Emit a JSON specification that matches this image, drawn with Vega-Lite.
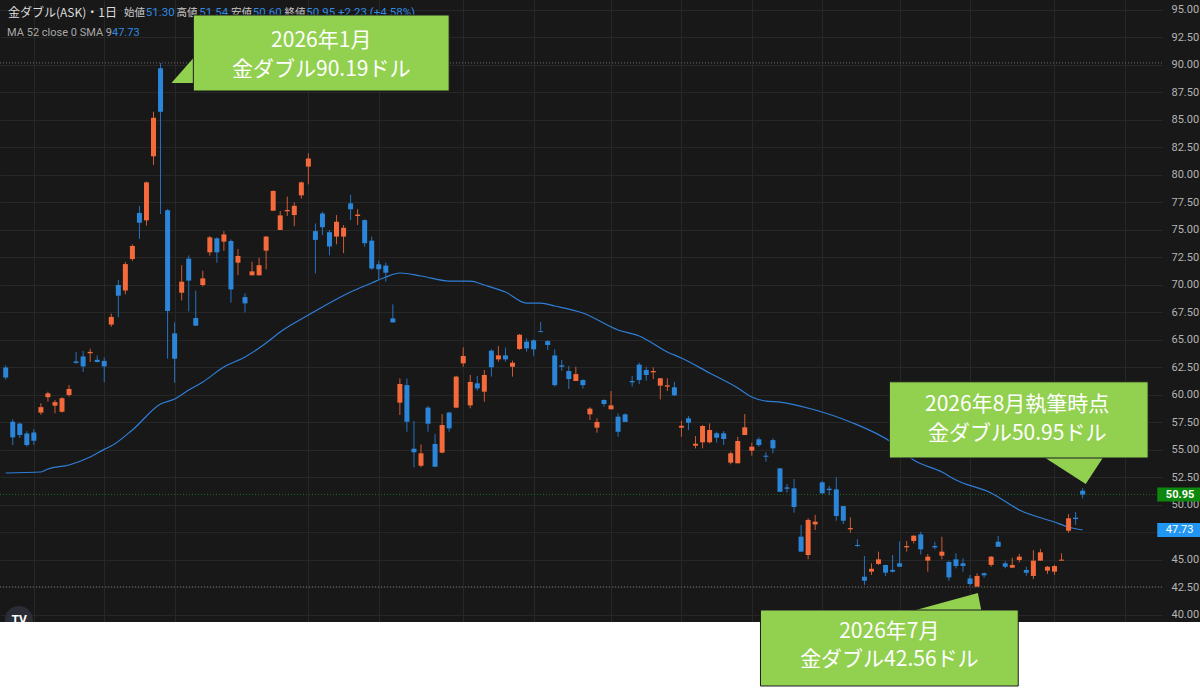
{
"$schema": "https://vega.github.io/schema/vega-lite/v6.json",
"width": 1162, "height": 692,
"autosize": {"type": "none"},
"padding": {"left": 0, "top": 0, "right": 38, "bottom": 0},
"background": "#181818",
"config": {"view": {"stroke": null}, "axis": {"titleOpacity": 0}},
"resolve": {"axis": {"x": "independent", "y": "independent"}},
"datasets": {
"candles": [
{"i":0,"o":62.5,"h":62.7,"l":61.4,"c":61.6},
{"i":1,"o":57.57,"h":57.8,"l":55.45,"c":56.15},
{"i":2,"o":57.4,"h":57.5,"l":56.1,"c":56.36},
{"i":3,"o":56.5,"h":56.7,"l":55.3,"c":55.45},
{"i":4,"o":56.6,"h":56.9,"l":55.45,"c":55.85},
{"i":5,"o":58.4,"h":59.25,"l":58.2,"c":58.9},
{"i":6,"o":59.8,"h":60.3,"l":59.4,"c":60.15},
{"i":7,"o":59.03,"h":59.55,"l":58.33,"c":59.35},
{"i":8,"o":58.48,"h":59.8,"l":58.4,"c":59.7},
{"i":9,"o":60.0,"h":60.9,"l":59.85,"c":60.55},
{"i":10,"o":63.05,"h":63.9,"l":62.85,"c":62.92},
{"i":11,"o":63.5,"h":64.0,"l":62.1,"c":62.6},
{"i":12,"o":63.8,"h":64.2,"l":63.0,"c":63.92},
{"i":13,"o":63.2,"h":63.6,"l":62.95,"c":63.0},
{"i":14,"o":63.1,"h":63.4,"l":61.15,"c":62.6},
{"i":15,"o":66.4,"h":67.4,"l":66.2,"c":67.1},
{"i":16,"o":70.0,"h":70.45,"l":67.06,"c":69.03},
{"i":17,"o":69.5,"h":72.1,"l":69.15,"c":71.9},
{"i":18,"o":72.36,"h":73.7,"l":72.2,"c":73.55},
{"i":19,"o":76.55,"h":77.2,"l":74.2,"c":75.66},
{"i":20,"o":75.88,"h":79.4,"l":75.4,"c":79.33},
{"i":21,"o":81.7,"h":85.75,"l":80.9,"c":85.2},
{"i":22,"o":89.7,"h":90.19,"l":76.45,"c":85.75},
{"i":23,"o":76.8,"h":76.9,"l":63.3,"c":67.64},
{"i":24,"o":65.6,"h":66.6,"l":61.1,"c":63.3},
{"i":25,"o":69.3,"h":71.8,"l":68.6,"c":70.3},
{"i":26,"o":72.4,"h":72.7,"l":67.6,"c":70.4},
{"i":27,"o":67.0,"h":69.5,"l":66.3,"c":66.3},
{"i":28,"o":70.0,"h":71.3,"l":69.85,"c":70.6},
{"i":29,"o":72.97,"h":74.45,"l":72.66,"c":74.33},
{"i":30,"o":74.24,"h":74.33,"l":72.03,"c":72.97},
{"i":31,"o":73.94,"h":74.9,"l":73.1,"c":74.6},
{"i":32,"o":74.0,"h":74.15,"l":68.4,"c":69.6},
{"i":33,"o":72.03,"h":73.27,"l":70.9,"c":72.64},
{"i":34,"o":68.9,"h":69.24,"l":67.5,"c":68.33},
{"i":35,"o":70.88,"h":72.12,"l":70.88,"c":71.24},
{"i":36,"o":70.88,"h":72.48,"l":70.88,"c":71.8},
{"i":37,"o":73.12,"h":74.45,"l":71.43,"c":74.4},
{"i":38,"o":76.75,"h":78.6,"l":76.75,"c":78.55},
{"i":39,"o":75.0,"h":76.73,"l":75.0,"c":76.33},
{"i":40,"o":76.7,"h":78.03,"l":76.27,"c":76.82},
{"i":41,"o":76.36,"h":77.5,"l":75.36,"c":77.2},
{"i":42,"o":78.15,"h":79.4,"l":77.85,"c":79.33},
{"i":43,"o":80.76,"h":81.97,"l":79.15,"c":81.5},
{"i":44,"o":74.9,"h":75.6,"l":71.06,"c":74.1},
{"i":45,"o":76.5,"h":76.66,"l":74.55,"c":75.25},
{"i":46,"o":74.8,"h":75.0,"l":72.7,"c":73.5},
{"i":47,"o":74.4,"h":76.36,"l":73.7,"c":75.75},
{"i":48,"o":74.4,"h":75.45,"l":72.9,"c":75.2},
{"i":49,"o":77.42,"h":78.2,"l":75.9,"c":76.88},
{"i":50,"o":76.27,"h":76.9,"l":75.45,"c":76.4},
{"i":51,"o":75.9,"h":75.97,"l":73.48,"c":73.8},
{"i":52,"o":74.03,"h":74.4,"l":71.36,"c":71.5},
{"i":53,"o":71.88,"h":72.2,"l":70.45,"c":71.43},
{"i":54,"o":71.76,"h":72.03,"l":70.3,"c":71.12},
{"i":55,"o":66.97,"h":68.24,"l":66.6,"c":66.6},
{"i":56,"o":59.3,"h":61.52,"l":58.18,"c":61.0},
{"i":57,"o":60.9,"h":61.5,"l":56.66,"c":57.57},
{"i":58,"o":55.12,"h":57.64,"l":53.43,"c":54.79},
{"i":59,"o":53.57,"h":55.5,"l":53.43,"c":54.7},
{"i":60,"o":58.85,"h":59.0,"l":56.66,"c":57.39},
{"i":61,"o":55.55,"h":56.45,"l":53.48,"c":53.48},
{"i":62,"o":54.76,"h":58.27,"l":54.7,"c":57.27},
{"i":63,"o":58.4,"h":58.48,"l":56.66,"c":56.97},
{"i":64,"o":58.85,"h":61.75,"l":58.8,"c":61.67},
{"i":65,"o":62.88,"h":64.33,"l":62.57,"c":63.55},
{"i":66,"o":59.06,"h":61.82,"l":58.79,"c":61.18},
{"i":67,"o":61.06,"h":61.73,"l":60.39,"c":60.6},
{"i":68,"o":60.3,"h":62.27,"l":59.39,"c":61.82},
{"i":69,"o":64.03,"h":64.15,"l":61.67,"c":62.52},
{"i":70,"o":63.24,"h":64.45,"l":63.03,"c":63.6},
{"i":71,"o":63.6,"h":64.3,"l":63.03,"c":63.24},
{"i":72,"o":62.57,"h":63.12,"l":61.67,"c":62.94},
{"i":73,"o":64.18,"h":65.55,"l":64.1,"c":65.48},
{"i":74,"o":64.85,"h":65.15,"l":63.94,"c":64.24},
{"i":75,"o":64.97,"h":65.06,"l":63.57,"c":64.15},
{"i":76,"o":65.8,"h":66.64,"l":65.72,"c":65.72},
{"i":77,"o":64.9,"h":65.0,"l":64.1,"c":64.55},
{"i":78,"o":63.6,"h":64.15,"l":60.76,"c":60.9},
{"i":79,"o":62.7,"h":63.18,"l":62.21,"c":62.57},
{"i":80,"o":62.18,"h":62.64,"l":60.55,"c":61.45},
{"i":81,"o":61.27,"h":62.57,"l":61.27,"c":61.9},
{"i":82,"o":61.36,"h":61.42,"l":60.6,"c":60.9},
{"i":83,"o":58.24,"h":58.88,"l":57.73,"c":58.76},
{"i":84,"o":57.03,"h":57.88,"l":56.57,"c":57.55},
{"i":85,"o":59.55,"h":59.6,"l":58.94,"c":59.18},
{"i":86,"o":58.7,"h":60.36,"l":58.7,"c":59.06},
{"i":87,"o":58.03,"h":58.33,"l":56.21,"c":56.66},
{"i":88,"o":58.24,"h":58.33,"l":57.55,"c":57.55},
{"i":89,"o":61.27,"h":61.73,"l":60.76,"c":61.15},
{"i":90,"o":62.76,"h":62.94,"l":61.0,"c":61.36},
{"i":91,"o":62.27,"h":62.57,"l":61.3,"c":61.82},
{"i":92,"o":62.06,"h":62.52,"l":61.45,"c":62.18},
{"i":93,"o":60.85,"h":61.55,"l":59.6,"c":61.52},
{"i":94,"o":60.76,"h":61.52,"l":60.36,"c":60.88},
{"i":95,"o":60.7,"h":61.2,"l":59.9,"c":59.97},
{"i":96,"o":57.03,"h":57.66,"l":56.2,"c":57.2},
{"i":97,"o":57.88,"h":58.1,"l":56.8,"c":57.48},
{"i":98,"o":55.39,"h":56.27,"l":55.15,"c":55.57},
{"i":99,"o":55.7,"h":57.27,"l":55.15,"c":57.18},
{"i":100,"o":55.7,"h":57.42,"l":55.6,"c":56.82},
{"i":101,"o":56.52,"h":56.66,"l":55.67,"c":56.12},
{"i":102,"o":56.52,"h":56.73,"l":55.45,"c":56.0},
{"i":103,"o":53.85,"h":54.85,"l":53.7,"c":54.7},
{"i":104,"o":53.79,"h":56.2,"l":53.79,"c":55.82},
{"i":105,"o":56.36,"h":58.27,"l":56.36,"c":57.06},
{"i":106,"o":54.94,"h":55.67,"l":54.48,"c":55.3},
{"i":107,"o":55.97,"h":56.15,"l":55.3,"c":55.45},
{"i":108,"o":54.48,"h":54.79,"l":53.94,"c":54.39},
{"i":109,"o":55.9,"h":56.06,"l":54.7,"c":55.15},
{"i":110,"o":53.33,"h":53.35,"l":51.2,"c":51.2},
{"i":111,"o":51.6,"h":51.9,"l":51.15,"c":51.48},
{"i":112,"o":51.52,"h":52.36,"l":49.3,"c":49.82},
{"i":113,"o":47.12,"h":48.18,"l":45.76,"c":45.76},
{"i":114,"o":45.45,"h":48.8,"l":45.06,"c":48.64},
{"i":115,"o":48.24,"h":49.1,"l":47.73,"c":48.48},
{"i":116,"o":52.06,"h":52.2,"l":51.0,"c":51.06},
{"i":117,"o":51.48,"h":51.73,"l":50.9,"c":51.36},
{"i":118,"o":51.42,"h":52.52,"l":48.57,"c":49.0},
{"i":119,"o":49.9,"h":49.9,"l":48.27,"c":48.57},
{"i":120,"o":47.79,"h":48.88,"l":47.48,"c":47.9},
{"i":121,"o":46.36,"h":46.88,"l":46.2,"c":46.27},
{"i":122,"o":43.48,"h":45.36,"l":42.73,"c":43.12},
{"i":123,"o":43.94,"h":44.7,"l":43.64,"c":44.2},
{"i":124,"o":44.64,"h":45.76,"l":44.55,"c":45.06},
{"i":125,"o":44.55,"h":44.55,"l":43.55,"c":43.85},
{"i":126,"o":44.1,"h":45.45,"l":43.85,"c":43.94},
{"i":127,"o":44.7,"h":46.7,"l":44.39,"c":44.39},
{"i":128,"o":46.15,"h":46.73,"l":45.76,"c":46.27},
{"i":129,"o":46.73,"h":47.25,"l":46.5,"c":47.21},
{"i":130,"o":47.33,"h":47.57,"l":45.5,"c":45.97},
{"i":131,"o":44.94,"h":45.55,"l":43.94,"c":45.3},
{"i":132,"o":46.27,"h":46.66,"l":45.97,"c":46.15},
{"i":133,"o":45.39,"h":47.12,"l":45.06,"c":45.76},
{"i":134,"o":44.82,"h":44.94,"l":43.12,"c":43.42},
{"i":135,"o":45.06,"h":45.6,"l":44.24,"c":44.45},
{"i":136,"o":44.7,"h":45.15,"l":43.94,"c":44.45},
{"i":137,"o":43.33,"h":43.64,"l":42.67,"c":42.82},
{"i":138,"o":42.58,"h":43.79,"l":42.56,"c":43.55},
{"i":139,"o":43.79,"h":43.88,"l":43.39,"c":43.61},
{"i":140,"o":44.55,"h":45.36,"l":44.39,"c":45.3},
{"i":141,"o":46.66,"h":47.18,"l":46.2,"c":46.2},
{"i":142,"o":44.7,"h":44.9,"l":44.24,"c":44.39},
{"i":143,"o":44.3,"h":45.21,"l":44.3,"c":44.55},
{"i":144,"o":45.0,"h":45.55,"l":44.79,"c":45.3},
{"i":145,"o":44.09,"h":44.39,"l":43.57,"c":43.85},
{"i":146,"o":43.55,"h":45.9,"l":43.27,"c":44.94},
{"i":147,"o":44.94,"h":46.0,"l":44.94,"c":45.7},
{"i":148,"o":44.03,"h":44.45,"l":43.73,"c":44.39},
{"i":149,"o":43.94,"h":44.55,"l":43.64,"c":44.45},
{"i":150,"o":44.94,"h":45.6,"l":44.94,"c":45.03},
{"i":151,"o":47.66,"h":49.18,"l":47.48,"c":48.79},
{"i":152,"o":48.85,"h":49.36,"l":48.18,"c":48.72},
{"i":153,"o":51.3,"h":51.54,"l":50.6,"c":50.95}
],
"ma": [
{"i":0,"ma":52.91},{"i":5,"ma":53.0},{"i":6,"ma":53.27},{"i":9,"ma":53.64},{"i":12,"ma":54.36},{"i":14,"ma":55.06},{"i":15,"ma":55.36},{"i":18,"ma":56.82},{"i":22,"ma":59.18},{"i":24,"ma":59.64},{"i":26,"ma":60.45},{"i":28,"ma":61.18},{"i":31,"ma":62.55},{"i":34,"ma":63.45},{"i":37,"ma":64.73},{"i":39,"ma":65.73},{"i":43,"ma":67.27},{"i":45,"ma":68.0},{"i":49,"ma":69.36},{"i":52,"ma":70.18},{"i":54,"ma":70.73},{"i":56,"ma":71.09},{"i":59,"ma":70.82},{"i":63,"ma":70.36},{"i":66,"ma":70.36},{"i":68,"ma":70.0},{"i":71,"ma":69.36},{"i":74,"ma":68.36},{"i":76,"ma":68.36},{"i":78,"ma":68.09},{"i":82,"ma":67.45},{"i":87,"ma":65.91},{"i":90,"ma":65.36},{"i":94,"ma":63.91},{"i":96,"ma":63.36},{"i":100,"ma":62.0},{"i":104,"ma":60.64},{"i":106,"ma":59.82},{"i":108,"ma":59.45},{"i":110,"ma":59.36},{"i":115,"ma":58.64},{"i":120,"ma":57.55},{"i":126,"ma":55.64},{"i":129,"ma":54.09},{"i":133,"ma":53.0},{"i":135,"ma":52.27},{"i":140,"ma":51.09},{"i":144,"ma":49.55},{"i":149,"ma":48.45},{"i":151,"ma":48.0},{"i":153,"ma":47.73}
]
},
"layer": [
{"data": {"name": "candles"},
 "mark": {"type": "rule", "strokeWidth": 1},
 "encoding": {
   "x": {"field": "i", "type": "quantitative", "scale": {"domain": [-0.0986, 163.563], "nice": false, "zero": false},
         "axis": {"orient": "bottom", "values": [4, 14, 24, 43, 53, 65, 75, 86, 96, 106, 116, 127, 137, 149, 159], "grid": true, "gridColor": "#272727", "gridWidth": 1, "labels": false, "ticks": false, "domain": false, "title": null}},
   "y": {"field": "l", "type": "quantitative", "scale": {"domain": [33, 95.909], "nice": false, "zero": false},
         "axis": {"orient": "right", "values": [40, 42.5, 45, 50, 52.5, 55, 57.5, 60, 62.5, 65, 67.5, 70, 72.5, 75, 77.5, 80, 82.5, 85, 87.5, 90, 92.5, 95], "format": ".2f", "grid": true, "gridColor": "#272727", "gridWidth": 1, "ticks": false, "domain": false, "labelAlign": "left", "labelBaseline": "middle", "labelPadding": 9, "labelColor": "#b4b4b4", "labelFont": "Roboto", "labelFontSize": 11, "labelOverlap": false, "labelFlush": false, "title": null}},
   "y2": {"field": "h"},
   "opacity": {"value": 0}
 }},
{"data": {"values": [{}]},
 "mark": {"type": "rule", "color": "#272727", "strokeWidth": 1},
 "encoding": {"y": {"datum": 47.5, "type": "quantitative", "axis": null}}},
{"data": {"values": [{}]},
 "mark": {"type": "point", "shape": "circle", "filled": true, "size": 784, "color": "#2a2d36", "opacity": 1},
 "encoding": {"x": {"datum": 1.87, "type": "quantitative", "axis": null}, "y": {"datum": 39.55, "type": "quantitative", "axis": null}}},
{"data": {"values": [{}]},
 "mark": {"type": "text", "text": "TV", "fontSize": 12, "fontWeight": "bold", "color": "#ffffff", "font": "Roboto", "align": "center", "baseline": "middle"},
 "encoding": {"x": {"datum": 1.9, "type": "quantitative", "axis": null}, "y": {"datum": 39.5, "type": "quantitative", "axis": null}}},
{"data": {"values": [{}]},
 "mark": {"type": "rect", "color": "#ffffff", "clip": false},
 "encoding": {"x": {"datum": -2, "type": "quantitative", "axis": null}, "x2": {"datum": 175}, "y": {"datum": 30, "type": "quantitative", "axis": null}, "y2": {"datum": 39.364}}},
{"data": {"values": [{}]},
 "mark": {"type": "rule", "color": "#6c6c6c", "strokeDash": [1, 2], "strokeWidth": 1},
 "encoding": {"y": {"datum": 90.19, "type": "quantitative", "axis": null}}},
{"data": {"values": [{}]},
 "mark": {"type": "rule", "color": "#6c6c6c", "strokeDash": [1, 2], "strokeWidth": 1},
 "encoding": {"y": {"datum": 42.56, "type": "quantitative", "axis": null}}},
{"data": {"values": [{}]},
 "mark": {"type": "rule", "color": "#1f6a1f", "strokeDash": [1, 2], "strokeWidth": 1},
 "encoding": {"y": {"datum": 50.95, "type": "quantitative", "axis": null}}},
{"data": {"name": "ma"},
 "mark": {"type": "line", "color": "#2f7ed8", "strokeWidth": 1.2, "interpolate": "monotone"},
 "encoding": {"x": {"field": "i", "type": "quantitative", "axis": null}, "y": {"field": "ma", "type": "quantitative", "axis": null}}},
{"data": {"name": "candles"},
 "mark": {"type": "rule", "strokeWidth": 1},
 "encoding": {
   "x": {"field": "i", "type": "quantitative", "axis": null},
   "y": {"field": "l", "type": "quantitative", "axis": null},
   "y2": {"field": "h"},
   "color": {"condition": {"test": "datum.c < datum.o", "value": "#2672bf"}, "value": "#cf5a32"}
 }},
{"data": {"name": "candles"},
 "mark": {"type": "bar", "width": 5},
 "encoding": {
   "x": {"field": "i", "type": "quantitative", "axis": null},
   "y": {"field": "o", "type": "quantitative", "axis": null},
   "y2": {"field": "c"},
   "color": {"condition": {"test": "datum.c < datum.o", "value": "#2b86d9"}, "value": "#f46a3a"}
 }},
{"data": {"values": [{}]},
 "mark": {"type": "text", "text": "金ダブル(ASK)・1日", "fontSize": 12, "color": "#dcdcdc", "font": "Noto Sans CJK JP", "align": "left", "baseline": "middle"},
 "encoding": {"x": {"datum": 0.32, "type": "quantitative", "axis": null}, "y": {"datum": 94.73, "type": "quantitative", "axis": null}}},
{"data": {"values": [{}]},
 "mark": {"type": "text", "text": "始値", "fontSize": 10.5, "color": "#c8c8c8", "font": "Noto Sans CJK JP", "align": "left", "baseline": "middle"},
 "encoding": {"x": {"datum": 16.8, "type": "quantitative", "axis": null}, "y": {"datum": 94.73, "type": "quantitative", "axis": null}}},
{"data": {"values": [{}]},
 "mark": {"type": "text", "text": "51.30", "fontSize": 11.5, "color": "#2f8ae0", "font": "Roboto", "align": "left", "baseline": "middle"},
 "encoding": {"x": {"datum": 19.9, "type": "quantitative", "axis": null}, "y": {"datum": 94.73, "type": "quantitative", "axis": null}}},
{"data": {"values": [{}]},
 "mark": {"type": "text", "text": "高値", "fontSize": 10.5, "color": "#c8c8c8", "font": "Noto Sans CJK JP", "align": "left", "baseline": "middle"},
 "encoding": {"x": {"datum": 24.27, "type": "quantitative", "axis": null}, "y": {"datum": 94.73, "type": "quantitative", "axis": null}}},
{"data": {"values": [{}]},
 "mark": {"type": "text", "text": "51.54", "fontSize": 11.5, "color": "#2f8ae0", "font": "Roboto", "align": "left", "baseline": "middle"},
 "encoding": {"x": {"datum": 27.5, "type": "quantitative", "axis": null}, "y": {"datum": 94.73, "type": "quantitative", "axis": null}}},
{"data": {"values": [{}]},
 "mark": {"type": "text", "text": "安値", "fontSize": 10.5, "color": "#c8c8c8", "font": "Noto Sans CJK JP", "align": "left", "baseline": "middle"},
 "encoding": {"x": {"datum": 32.0, "type": "quantitative", "axis": null}, "y": {"datum": 94.73, "type": "quantitative", "axis": null}}},
{"data": {"values": [{}]},
 "mark": {"type": "text", "text": "50.60", "fontSize": 11.5, "color": "#2f8ae0", "font": "Roboto", "align": "left", "baseline": "middle"},
 "encoding": {"x": {"datum": 35.1, "type": "quantitative", "axis": null}, "y": {"datum": 94.73, "type": "quantitative", "axis": null}}},
{"data": {"values": [{}]},
 "mark": {"type": "text", "text": "終値", "fontSize": 10.5, "color": "#c8c8c8", "font": "Noto Sans CJK JP", "align": "left", "baseline": "middle"},
 "encoding": {"x": {"datum": 39.6, "type": "quantitative", "axis": null}, "y": {"datum": 94.73, "type": "quantitative", "axis": null}}},
{"data": {"values": [{}]},
 "mark": {"type": "text", "text": "50.95  +2.23 (+4.58%)", "fontSize": 11.5, "color": "#2f8ae0", "font": "Roboto", "align": "left", "baseline": "middle"},
 "encoding": {"x": {"datum": 42.7, "type": "quantitative", "axis": null}, "y": {"datum": 94.73, "type": "quantitative", "axis": null}}},
{"data": {"values": [{}]},
 "mark": {"type": "text", "text": "MA 52 close 0 SMA 9", "fontSize": 11, "color": "#a8a8a8", "font": "Roboto", "align": "left", "baseline": "middle"},
 "encoding": {"x": {"datum": 0.2, "type": "quantitative", "axis": null}, "y": {"datum": 92.95, "type": "quantitative", "axis": null}}},
{"data": {"values": [{}]},
 "mark": {"type": "text", "text": "47.73", "fontSize": 11, "color": "#2f8ae0", "font": "Roboto", "align": "left", "baseline": "middle"},
 "encoding": {"x": {"datum": 15.1, "type": "quantitative", "axis": null}, "y": {"datum": 92.95, "type": "quantitative", "axis": null}}},
{"data": {"values": [{}]},
 "mark": {"type": "rect", "color": "#0d870d", "clip": false},
 "encoding": {"x": {"datum": 163.6, "type": "quantitative", "axis": null}, "x2": {"datum": 170}, "y": {"datum": 50.32, "type": "quantitative", "axis": null}, "y2": {"datum": 51.58}}},
{"data": {"values": [{}]},
 "mark": {"type": "text", "text": "50.95", "fontSize": 11, "fontWeight": "bold", "color": "#ffffff", "font": "Roboto", "align": "left", "baseline": "middle", "clip": false},
 "encoding": {"x": {"datum": 164.82, "type": "quantitative", "axis": null}, "y": {"datum": 50.95, "type": "quantitative", "axis": null}}},
{"data": {"values": [{}]},
 "mark": {"type": "rect", "color": "#2196f3", "clip": false},
 "encoding": {"x": {"datum": 163.6, "type": "quantitative", "axis": null}, "x2": {"datum": 170}, "y": {"datum": 47.1, "type": "quantitative", "axis": null}, "y2": {"datum": 48.36}}},
{"data": {"values": [{}]},
 "mark": {"type": "text", "text": "47.73", "fontSize": 11, "color": "#ffffff", "font": "Roboto", "align": "left", "baseline": "middle", "clip": false},
 "encoding": {"x": {"datum": 164.82, "type": "quantitative", "axis": null}, "y": {"datum": 47.73, "type": "quantitative", "axis": null}}},
{"data": {"values": [{}]},
 "mark": {"type": "point", "shape": "M-0.923,0.962L0.769,-0.962L0.923,-0.962L0.923,0.962Z", "filled": true, "size": 676, "color": "#92d050", "opacity": 1},
 "encoding": {"x": {"datum": 25.25, "type": "quantitative", "axis": null}, "y": {"datum": 89.5, "type": "quantitative", "axis": null}}},
{"data": {"values": [{}]},
 "mark": {"type": "point", "shape": "M-0.97,-0.44L0.97,-0.44L0.394,0.44Z", "filled": true, "size": 4356, "color": "#92d050", "opacity": 1},
 "encoding": {"x": {"datum": 151.59, "type": "quantitative", "axis": null}, "y": {"datum": 53.227, "type": "quantitative", "axis": null}}},
{"data": {"values": [{}]},
 "mark": {"type": "point", "shape": "M-0.987,0.256L0.885,-0.256L0.987,0.256Z", "filled": true, "size": 6084, "color": "#92d050", "opacity": 1},
 "encoding": {"x": {"datum": 133.21, "type": "quantitative", "axis": null}, "y": {"datum": 41.09, "type": "quantitative", "axis": null}}},
{"data": {"values": [{}]},
 "mark": {"type": "rect", "fill": "#92d050", "stroke": "#1c1c1c", "strokeWidth": 1},
 "encoding": {"x": {"datum": 26.66, "type": "quantitative", "axis": null}, "x2": {"datum": 63.0}, "y": {"datum": 94.545, "type": "quantitative", "axis": null}, "y2": {"datum": 87.636}}},
{"data": {"values": [{}]},
 "mark": {"type": "rect", "fill": "#92d050", "stroke": "#1c1c1c", "strokeWidth": 1, "clip": false},
 "encoding": {"x": {"datum": 125.54, "type": "quantitative", "axis": null}, "x2": {"datum": 162.3}, "y": {"datum": 61.2, "type": "quantitative", "axis": null}, "y2": {"datum": 54.273}}},
{"data": {"values": [{}]},
 "mark": {"type": "rect", "fill": "#92d050", "stroke": "#1c1c1c", "strokeWidth": 1},
 "encoding": {"x": {"datum": 107.23, "type": "quantitative", "axis": null}, "x2": {"datum": 143.85}, "y": {"datum": 40.4545, "type": "quantitative", "axis": null}, "y2": {"datum": 33.545}}},
{"data": {"values": [{}]},
 "mark": {"type": "text", "text": "2026年1月", "fontSize": 21, "color": "#ffffff", "font": "Noto Sans CJK JP", "align": "center", "baseline": "middle"},
 "encoding": {"x": {"datum": 44.83, "type": "quantitative", "axis": null}, "y": {"datum": 92.18, "type": "quantitative", "axis": null}}},
{"data": {"values": [{}]},
 "mark": {"type": "text", "text": "金ダブル90.19ドル", "fontSize": 21, "color": "#ffffff", "font": "Noto Sans CJK JP", "align": "center", "baseline": "middle"},
 "encoding": {"x": {"datum": 44.83, "type": "quantitative", "axis": null}, "y": {"datum": 89.545, "type": "quantitative", "axis": null}}},
{"data": {"values": [{}]},
 "mark": {"type": "text", "text": "2026年8月執筆時点", "fontSize": 21, "color": "#ffffff", "font": "Noto Sans CJK JP", "align": "center", "baseline": "middle"},
 "encoding": {"x": {"datum": 143.7, "type": "quantitative", "axis": null}, "y": {"datum": 59.09, "type": "quantitative", "axis": null}}},
{"data": {"values": [{}]},
 "mark": {"type": "text", "text": "金ダブル50.95ドル", "fontSize": 21, "color": "#ffffff", "font": "Noto Sans CJK JP", "align": "center", "baseline": "middle"},
 "encoding": {"x": {"datum": 143.7, "type": "quantitative", "axis": null}, "y": {"datum": 56.45, "type": "quantitative", "axis": null}}},
{"data": {"values": [{}]},
 "mark": {"type": "text", "text": "2026年7月", "fontSize": 21, "color": "#ffffff", "font": "Noto Sans CJK JP", "align": "center", "baseline": "middle"},
 "encoding": {"x": {"datum": 125.54, "type": "quantitative", "axis": null}, "y": {"datum": 38.455, "type": "quantitative", "axis": null}}},
{"data": {"values": [{}]},
 "mark": {"type": "text", "text": "金ダブル42.56ドル", "fontSize": 21, "color": "#ffffff", "font": "Noto Sans CJK JP", "align": "center", "baseline": "middle"},
 "encoding": {"x": {"datum": 125.54, "type": "quantitative", "axis": null}, "y": {"datum": 35.909, "type": "quantitative", "axis": null}}}
]
}
